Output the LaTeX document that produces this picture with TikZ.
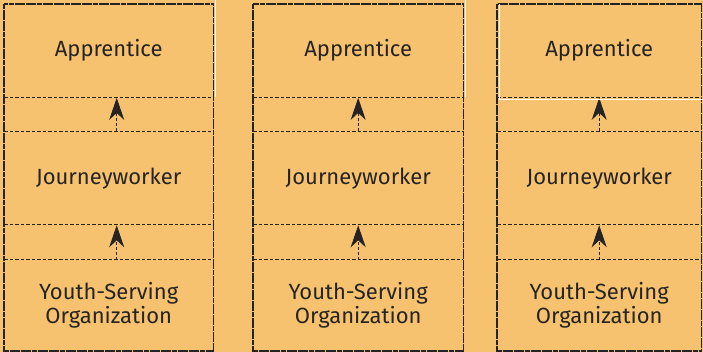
\documentclass[tikz,border=0pt]{standalone}
\usepackage{fontspec}
\setmainfont{Fira Sans}
\usetikzlibrary{arrows.meta,positioning}
\definecolor{LadderOrange}{RGB}{246,194,112}
\definecolor{LadderInk}{RGB}{38,36,34}
\tikzset{
  stage/.style={minimum width=#1,minimum height=93pt,inner sep=0pt,
    align=center,text=LadderInk,font=\fontsize{22}{24}\selectfont},
  frameline/.style={LadderInk,line width=1.5pt,dash pattern=on 5pt off 0.6pt},
  splitline/.style={LadderInk,line width=0.8pt,dash pattern=on 3.5pt off 2pt},
  stepup/.style={LadderInk,line width=0.8pt,dash pattern=on 3pt off 2pt,
    -{Stealth[length=22pt,width=15pt,inset=7pt]},shorten >=0.5pt},
  glint/.style={white,line width=0.7pt}
}

\begin{document}
\begin{tikzpicture}[x=1pt,y=-1pt]
  \useasboundingbox (0,0) rectangle (703,352);
  \fill[LadderOrange] (0,0) rectangle (703,352);
  % three ladder columns: left edge / width / arrow offset
  \foreach \i/\x/\w/\s in {1/4/209/8,2/253/210/0,3/497/204/0}{
    \node[stage=\w pt,anchor=north west] (app\i) at (\x,4) {Apprentice};
    \node[stage=\w pt,below=34pt of app\i] (jw\i) {Journeyworker};
    \node[stage=\w pt,minimum height=91pt,below=35pt of jw\i] (yso\i)
      {Youth-Serving\\Organization};
    \draw[splitline] (app\i.south west) -- (app\i.south east);
    \draw[splitline] (jw\i.north west) -- (jw\i.north east);
    \draw[splitline] (jw\i.south west) -- (jw\i.south east);
    \draw[splitline] (yso\i.north west) -- (yso\i.north east);
    \draw[stepup] ([xshift=\s pt]jw\i.north) -- ([xshift=\s pt]app\i.south);
    \draw[stepup] ([xshift=\s pt]yso\i.north) -- ([xshift=\s pt]jw\i.south);
    \draw[frameline] (app\i.north west) rectangle (yso\i.south east);
  }
  % white edges left round the top boxes
  \draw[glint] ([xshift=2pt]app1.south east) -- ([xshift=2pt]app1.north east) -- ++(0,-4);
  \draw[glint] ([xshift=2pt]app2.south east) -- ([xshift=2pt]app2.north east) -- ++(0,-4);
  \draw[glint] ([xshift=2pt,yshift=-1.5pt]app3.south east)
    -- ([xshift=2pt,yshift=-1.5pt]app3.south west) -- ([xshift=2pt]app3.north west);
\end{tikzpicture}
\end{document}
